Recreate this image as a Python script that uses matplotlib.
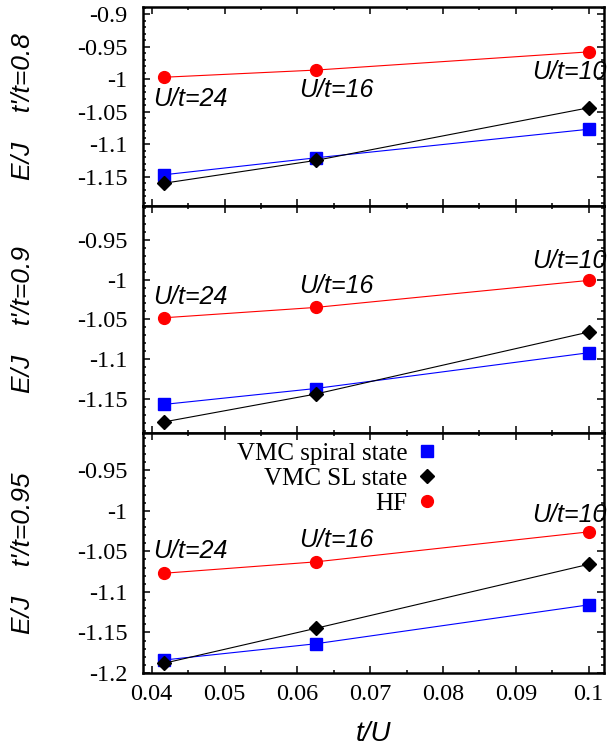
import matplotlib
matplotlib.use("Agg")
import matplotlib.pyplot as plt
from matplotlib.lines import Line2D
from matplotlib.ticker import MultipleLocator, FuncFormatter

# t/U for U/t = 24, 16, 10
t_over_U = [0.0417, 0.0625, 0.1]
u_labels = ["U/t=24", "U/t=16", "U/t=10"]
panel_names = ["t'/t=0.8", "t'/t=0.9", "t'/t=0.95"]

# energies per panel (t'/t = 0.8, 0.9, 0.95)
vmc_spiral = [
    [-1.147, -1.121, -1.077],
    [-1.157, -1.137, -1.092],
    [-1.184, -1.164, -1.116],
]
vmc_sl = [
    [-1.160, -1.125, -1.044],
    [-1.179, -1.144, -1.066],
    [-1.188, -1.145, -1.066],
]
hf = [
    [-0.997, -0.986, -0.958],
    [-1.048, -1.035, -1.001],
    [-1.077, -1.063, -1.026],
]

# label anchor (left, baseline) in data coords
label_x = [0.0402, 0.0602, 0.0922]
label_y = [
    [-1.042, -1.027, -1.000],
    [-1.031, -1.017, -0.985],
    [-1.058, -1.045, -1.014],
]

ylims = [(-1.1946, -0.889), (-1.193, -0.907), (-1.2, -0.904)]
# axes rectangles in figure fraction
rects = [
    [0.234, 0.725, 0.7545, 0.2656],
    [0.234, 0.4211, 0.7545, 0.3039],
    [0.234, 0.1003, 0.7545, 0.3209],
]

serif = "Liberation Serif"
sans = "Liberation Sans"

fig = plt.figure(figsize=(6.11, 7.48), dpi=100)

axes = []
for i in range(3):
    ax = fig.add_axes(rects[i])
    ax.plot(t_over_U, vmc_spiral[i], color="blue", lw=0.8, marker="s", ms=8)
    ax.plot(t_over_U, vmc_sl[i], color="black", lw=0.8, marker="D", ms=7)
    ax.plot(t_over_U, hf[i], color="red", lw=0.8, marker="o", ms=8.5)

    for j in range(3):
        ax.text(label_x[j], label_y[i][j], u_labels[j], ha="left", va="baseline",
                fontsize=18, style="italic", family=sans)

    ax.set_xlim(0.0388, 0.1021)
    ax.set_ylim(*ylims[i])
    ax.xaxis.set_major_locator(MultipleLocator(0.01))
    ax.xaxis.set_minor_locator(MultipleLocator(0.005))
    ax.yaxis.set_major_locator(MultipleLocator(0.05))
    ax.yaxis.set_minor_locator(MultipleLocator(0.01))
    ax.yaxis.set_major_formatter(FuncFormatter(lambda v, p: "%g" % round(v, 3)))
    ax.xaxis.set_major_formatter(FuncFormatter(lambda v, p: "%g" % round(v, 3)))
    ax.tick_params(which="both", direction="in", top=True, right=True, width=1.1)
    ax.tick_params(which="major", length=5)
    ax.tick_params(which="minor", length=2.5)
    ax.tick_params(labelsize=17.5)
    ax.tick_params(axis="y", pad=11)
    ax.tick_params(axis="x", pad=8)
    for lab in ax.get_xticklabels() + ax.get_yticklabels():
        lab.set_family(serif)
    for sp in ax.spines.values():
        sp.set_linewidth(1.8)
    if i < 2:
        ax.tick_params(labelbottom=False)

    ax.set_ylabel("E/J    " + panel_names[i], fontsize=19, style="italic", family=sans)
    ax.yaxis.set_label_coords(-0.235, 0.5)
    axes.append(ax)

axes[2].set_xlabel("t/U", fontsize=20, style="italic", family=sans)
axes[2].xaxis.set_label_coords(0.5, -0.2)

handles = [
    Line2D([], [], color="blue", marker="s", ms=8, ls="none"),
    Line2D([], [], color="black", marker="D", ms=7, ls="none"),
    Line2D([], [], color="red", marker="o", ms=8.5, ls="none"),
]
axes[2].legend(handles, ["VMC spiral state", "VMC SL state", "HF"],
               loc="upper right", bbox_to_anchor=(0.644, 0.962), frameon=False,
               markerfirst=False, handlelength=1.0, handletextpad=0.3,
               borderpad=0, borderaxespad=0, labelspacing=0.1,
               prop={"family": serif, "size": 18})

fig.savefig("out.png", dpi=100)
